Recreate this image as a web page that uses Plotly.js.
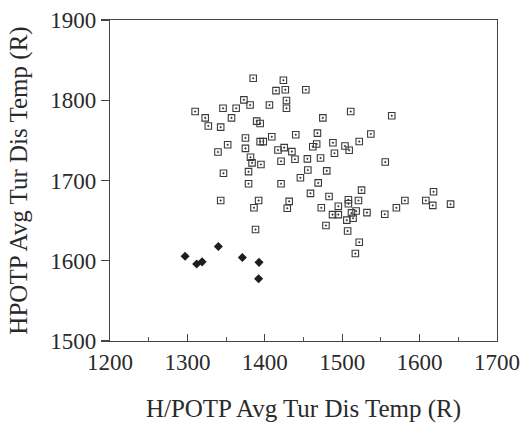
<!DOCTYPE html>
<html>
<head>
<meta charset="utf-8">
<script src="https://cdn.plot.ly/plotly-3.0.1.min.js"></script>
<style>html,body{margin:0;padding:0;background:#fff;}#chart{width:524px;height:427px;}</style>
</head>
<body>
<div id="chart"></div>
<script>
// Open squares: H/POTP vs HPOTP avg turbine discharge temperature (R)
const squareX = [1385,1424,1414.5,1426.5,1453,1310,1346,1363,1373,1381,1406,1428,1428,1323,1327,1343,1357,1389.5,1394,1375,
  1352,1339.5,1375,1394,1398,1409,1440,1417,1425,1435,1381.5,1383.5,1395,1421,1439,1346.6,1379,1446,1511,1475,
  1564,1468,1537,1467,1462,1488,1522,1503.6,1509,1490,1455,1472,1555.6,1455.6,1480,1379,1421,1469,1459,1483,
  1525,1508,1508,1521,1473,1495,1487.5,1495,1512,1518,1532,1506,1514,1555,1570,1581,1618,1608,1617,1640,
  1479,1507,1522,1517,1343,1392,1431.5,1386,1429,1388];
const squareY = [1827.5,1825,1812,1813,1813,1786,1790,1790,1800.5,1794,1794,1799.6,1790,1778,1768,1766.5,1778,1774,1771,1753,
  1744.5,1735.5,1740,1748.5,1748.5,1754.5,1757,1738,1741,1736,1729,1722,1720,1724,1726.5,1709,1711,1703.5,1786,1778,
  1780.6,1759,1758,1745.5,1742,1747,1748.6,1743,1737.7,1734,1727,1728,1723,1713,1712,1696,1696,1697,1684,1680,
  1688,1676,1671,1675,1666,1668,1657.5,1657.5,1659.6,1662,1660,1650.6,1653,1658,1666,1675,1686,1675,1669,1670.5,
  1644,1637,1623,1609,1675,1675,1674,1666,1665.5,1639];
// Filled diamonds
const filledX = [1297,1312,1319,1340,1371,1392.5,1392];
const filledY = [1605.6,1596,1598.6,1617.7,1604,1598,1577.5];

const xTicks = [1200,1300,1400,1500,1600,1700];
const yTicks = [1500,1600,1700,1800,1900];
const xTitle = 'H/POTP Avg Tur Dis Temp (R)';
const yTitle = 'HPOTP Avg Tur Dis Temp (R)';

const ink = '#2a2a2a';
const font = "'Liberation Serif'";

const traces = [
  {x: squareX, y: squareY, type: 'scatter', mode: 'markers',
   marker: {symbol: 'square-open-dot', size: 6.5, color: '#3a3a3a', line: {width: 1.1, color: '#3a3a3a'}},
   hoverinfo: 'x+y', showlegend: false},
  {x: filledX, y: filledY, type: 'scatter', mode: 'markers',
   marker: {symbol: 'diamond', size: 7, color: '#1e1e1e'},
   hoverinfo: 'x+y', showlegend: false}
];

const layout = {
  width: 524, height: 427,
  margin: {l: 110, r: 27, t: 20, b: 86},
  paper_bgcolor: '#ffffff', plot_bgcolor: '#ffffff',
  font: {family: font, color: ink, size: 23},
  xaxis: {
    range: [1200, 1700], tickvals: xTicks, ticktext: xTicks.map(String),
    showgrid: false, zeroline: false, showline: true, linecolor: '#444', linewidth: 1.2, mirror: true,
    ticks: 'inside', ticklen: 7, tickcolor: '#444', tickwidth: 1.2,
    minor: {dtick: 50, ticks: 'inside', ticklen: 4, tickcolor: '#555', showgrid: false},
    tickfont: {family: font, size: 23, color: ink},
    title: {text: xTitle, font: {family: font, size: 25, color: ink}, standoff: 25},
    automargin: false
  },
  yaxis: {
    range: [1500, 1900], tickvals: yTicks, ticktext: yTicks.map(String),
    showgrid: false, zeroline: false, showline: true, linecolor: '#444', linewidth: 1.2, mirror: true,
    ticks: 'outside', ticklen: 8, tickcolor: '#444', tickwidth: 1.2,
    tickfont: {family: font, size: 23, color: ink},
    title: {text: yTitle, font: {family: font, size: 25, color: ink}, standoff: 15},
    automargin: false
  }
};

Plotly.newPlot('chart', traces, layout, {displayModeBar: false, staticPlot: true});
</script>
</body>
</html>
